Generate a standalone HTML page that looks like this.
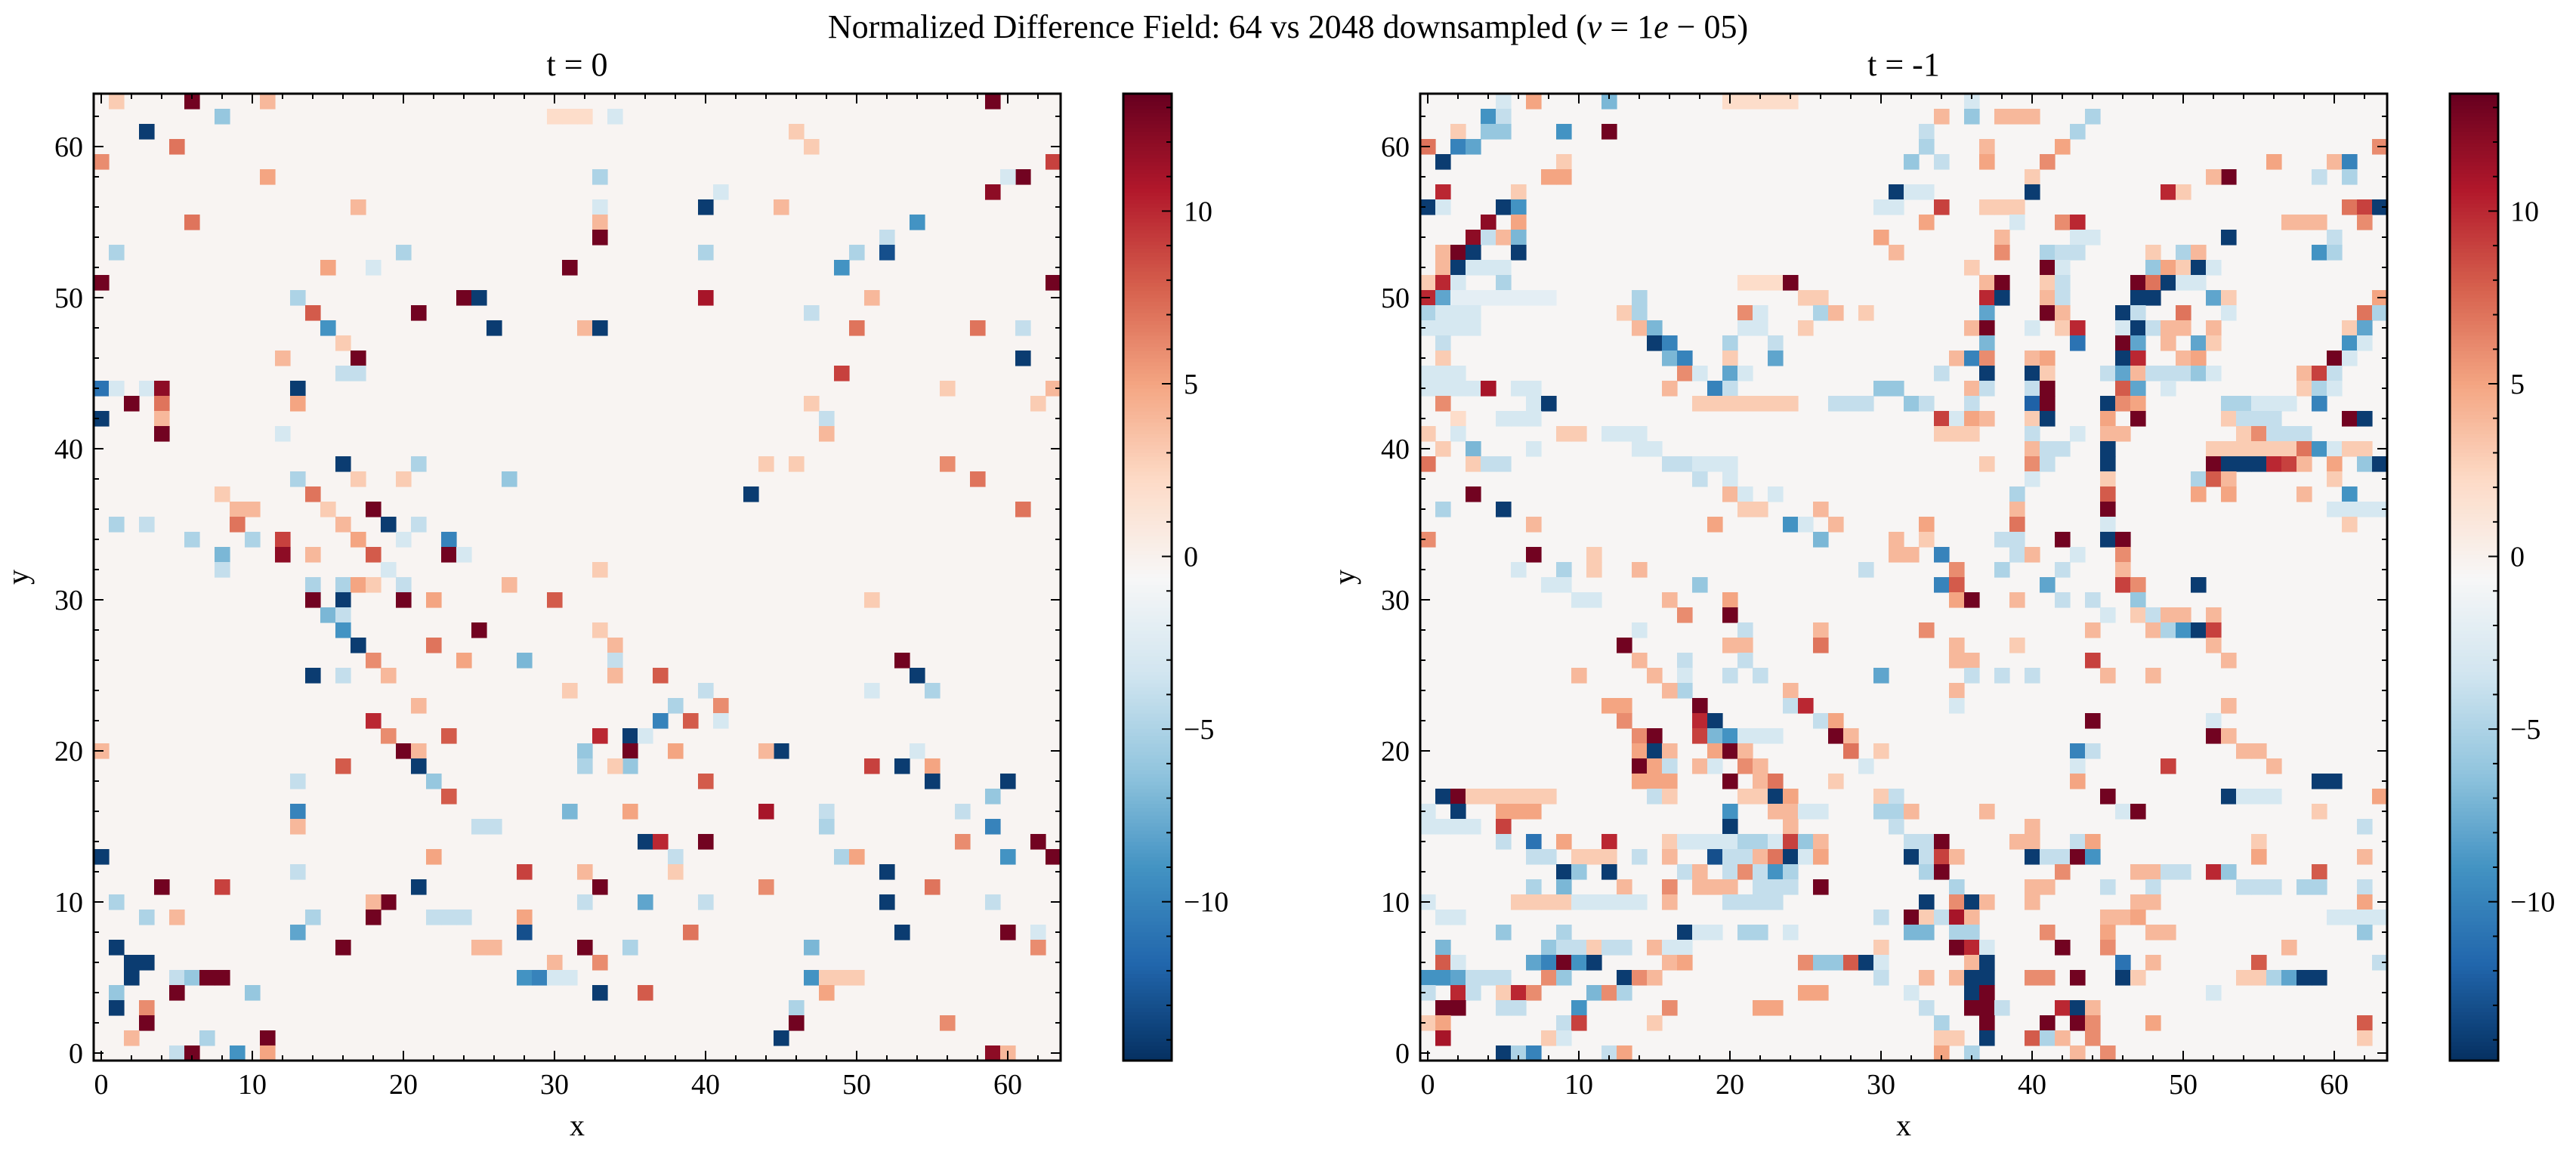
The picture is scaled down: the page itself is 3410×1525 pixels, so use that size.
<!DOCTYPE html>
<html><head><meta charset="utf-8"><style>
html,body{margin:0;padding:0;background:#fff;}
svg{display:block;font-family:"Liberation Serif","DejaVu Serif",serif;}
</style></head><body>
<svg id="fig" width="3410" height="1525" viewBox="0 0 3410 1525" xmlns="http://www.w3.org/2000/svg">
<rect width="3410" height="1525" fill="#fff"/>
<text x="1705" y="50" font-size="44" text-anchor="middle">Normalized Difference Field: 64 vs 2048 downsampled (<tspan font-style="italic">ν</tspan> = 1<tspan font-style="italic">e</tspan> − 05)</text>
<g id="p0"></g><g id="p1"></g>
</svg>
<script>
const vmin = -14.6, vmax = 13.4;
const cbTicks = [-10, -5, 0, 5, 10];
const axisTicks = [0, 10, 20, 30, 40, 50, 60];
const panelTitles = ["t = 0", "t = -1"];
const bgValues = [-0.3, -0.4];
const leftCells = [
[6,63,13],[59,63,13],[1,63,3],[11,63,4],
[8,62,-6],[30,62,2],[31,62,2],[32,62,2],[34,62,-3],
[3,61,-14],[46,61,3],
[5,60,7],[47,60,3],
[0,59,6],[63,59,9],
[11,58,5],[33,58,-5],[61,58,13],[60,58,-3],
[59,57,12],[41,57,-3],
[40,56,-14],[17,56,4],[45,56,4],[33,56,-3],
[6,55,7],[33,55,4],[54,55,-9],
[33,54,13],[52,54,-4],
[1,53,-5],[20,53,-5],[40,53,-5],[50,53,-5],[52,53,-13],
[31,52,13],[15,52,5],[18,52,-3],[49,52,-9],
[0,51,13],[63,51,13],
[24,50,13],[25,50,-14],[40,50,11],[51,50,4],[13,50,-5],
[14,49,8],[21,49,13],[47,49,-4],
[15,48,-9],[26,48,-14],[32,48,4],[33,48,-14],[50,48,7],[58,48,7],[61,48,-4],
[16,47,3],
[17,46,13],[12,46,4],[61,46,-14],
[16,45,-4],[17,45,-4],[49,45,9],
[0,44,-11],[1,44,-3],[3,44,-3],[4,44,12],[13,44,-14],[63,44,4],[56,44,3],
[2,43,13],[4,43,7],[13,43,5],[47,43,3],[62,43,3],
[0,42,-14],[4,42,4],[48,42,-4],
[4,41,13],[12,41,-3],[48,41,4],
[16,39,-14],[21,39,-5],[44,39,3],[46,39,3],[56,39,6],
[13,38,-5],[27,38,-6],[58,38,7],[17,38,3],[20,38,3],
[14,37,7],[43,37,-14],[8,37,3],
[18,36,13],[9,36,4],[10,36,4],[15,36,3],[61,36,7],
[1,35,-5],[3,35,-4],[9,35,7],[19,35,-14],[21,35,-4],[16,35,4],
[6,34,-5],[10,34,-5],[12,34,9],[17,34,5],[23,34,-10],[20,34,-3],
[8,33,-7],[12,33,12],[14,33,4],[18,33,8],[23,33,13],[24,33,-3],
[8,32,-4],[19,32,-3],[33,32,3],
[14,31,-5],[16,31,-5],[17,31,5],[18,31,3],[20,31,-4],[27,31,4],
[14,30,13],[16,30,-14],[20,30,13],[22,30,5],[30,30,8],[51,30,3],
[15,29,-7],[16,29,-4],
[16,28,-9],[25,28,13],[33,28,3],
[17,27,-14],[22,27,7],[34,27,4],
[18,26,6],[24,26,5],[28,26,-7],[53,26,13],[34,26,-4],
[14,25,-14],[16,25,-4],[19,25,4],[34,25,4],[37,25,8],[54,25,-14],
[31,24,3],[40,24,-4],[55,24,-5],[51,24,-3],
[38,23,-5],[41,23,6],[21,23,4],
[18,22,10],[37,22,-10],[39,22,8],[41,22,-3],
[19,21,6],[23,21,8],[33,21,10],[35,21,-14],[36,21,-3],
[0,20,4],[20,20,13],[21,20,4],[32,20,-6],[35,20,13],[38,20,5],[45,20,-14],[44,20,4],[54,20,-3],
[16,19,8],[21,19,-14],[32,19,-5],[35,19,-6],[51,19,9],[53,19,-14],[55,19,5],[34,19,3],
[13,18,-4],[22,18,-6],[40,18,8],[55,18,-14],[60,18,-14],
[23,17,8],[59,17,-6],
[13,16,-10],[31,16,-7],[35,16,5],[44,16,11],[48,16,-4],[57,16,-4],
[13,15,4],[25,15,-4],[26,15,-4],[48,15,-5],[59,15,-10],
[36,14,-14],[37,14,10],[40,14,13],[57,14,6],[62,14,13],
[0,13,-14],[22,13,5],[38,13,-4],[49,13,-5],[50,13,5],[60,13,-9],[63,13,13],
[28,12,9],[32,12,4],[38,12,3],[52,12,-14],[13,12,-4],
[4,11,13],[8,11,9],[21,11,-14],[33,11,13],[44,11,6],[55,11,7],
[1,10,-5],[19,10,13],[18,10,4],[36,10,-8],[32,10,-4],[40,10,-4],[52,10,-14],[59,10,-4],
[3,9,-5],[5,9,4],[18,9,13],[14,9,-5],[22,9,-4],[23,9,-4],[24,9,-4],[28,9,5],
[13,8,-8],[28,8,-13],[39,8,7],[53,8,-14],[60,8,13],[62,8,-3],
[1,7,-14],[16,7,13],[32,7,13],[35,7,-5],[47,7,-7],[62,7,6],[25,7,4],[26,7,4],
[2,6,-14],[3,6,-14],[30,6,4],[33,6,6],
[2,5,-14],[5,5,-4],[6,5,-6],[7,5,13],[8,5,13],[28,5,-9],[29,5,-10],[30,5,-3],[31,5,-3],[47,5,-9],[48,5,3],[49,5,3],[50,5,3],
[1,4,-6],[5,4,13],[10,4,-6],[33,4,-14],[36,4,8],[48,4,5],
[1,3,-14],[3,3,6],[46,3,-5],
[3,2,13],[46,2,13],[56,2,6],
[2,1,4],[7,1,-5],[11,1,13],[45,1,-14],
[5,0,-4],[6,0,13],[9,0,-9],[11,0,5],[59,0,12],[60,0,4]
];
const rightCells = [
[7,63,5],[12,63,-7],[5,63,-3],[36,63,-3],[20,63,2],[21,63,2],[22,63,2],[23,63,2],[24,63,2],
[4,62,-9],[5,62,-4],[34,62,4],[36,62,-6],[39,62,4],[40,62,4],[44,62,-5],[38,62,4],
[4,61,-6],[5,61,-6],[9,61,-9],[12,61,13],[43,61,-5],[33,61,-4],[2,61,3],
[0,60,7],[2,60,-10],[3,60,-8],[33,60,-5],[42,60,5],[37,60,4],[63,60,6],
[1,59,-14],[9,59,3],[32,59,-6],[34,59,-4],[37,59,5],[41,59,6],[56,59,5],[60,59,4],[61,59,-10],
[8,58,5],[9,58,5],[53,58,13],[52,58,4],[59,58,-4],[61,58,-5],[40,58,3],
[1,57,10],[6,57,3],[31,57,-14],[32,57,-3],[33,57,-3],[40,57,-14],[49,57,10],[50,57,3],
[0,56,-14],[1,56,-3],[5,56,-14],[6,56,-9],[30,56,-3],[31,56,-3],[34,56,9],[37,56,3],[38,56,3],[39,56,3],[61,56,7],[62,56,9],[63,56,-14],
[4,55,12],[6,55,5],[33,55,5],[42,55,6],[43,55,10],[39,55,-3],[57,55,4],[58,55,4],[59,55,4],[62,55,6],
[3,54,12],[4,54,-4],[5,54,4],[6,54,-7],[30,54,5],[38,54,4],[43,54,-3],[44,54,-3],[53,54,-14],[60,54,-4],
[1,53,4],[2,53,13],[3,53,-14],[6,53,-14],[31,53,4],[38,53,6],[41,53,-5],[42,53,-4],[43,53,-4],[50,53,-5],[51,53,4],[59,53,-9],[60,53,-5],[48,53,3],
[1,52,4],[2,52,-14],[3,52,-3],[4,52,-3],[5,52,-3],[41,52,13],[42,52,-3],[36,52,3],[48,52,-6],[49,52,5],[50,52,3],[51,52,-14],[52,52,-3],
[0,51,3],[1,51,10],[2,51,-3],[5,51,-5],[21,51,2],[22,51,2],[23,51,2],[24,51,13],[37,51,4],[38,51,13],[41,51,3],[42,51,-4],[47,51,13],[48,51,7],[49,51,-14],[50,51,-3],[51,51,-3],
[0,50,10],[1,50,-8],[2,50,-2],[3,50,-2],[4,50,-2],[5,50,-2],[6,50,-2],[7,50,-2],[8,50,-2],[14,50,-5],[25,50,3],[26,50,3],[37,50,10],[38,50,-14],[41,50,4],[42,50,-4],[47,50,-14],[48,50,-14],[52,50,-8],[53,50,3],[63,50,5],
[0,49,-5],[1,49,-3],[2,49,-3],[3,49,-3],[13,49,3],[14,49,-5],[21,49,6],[22,49,-3],[26,49,-5],[27,49,4],[29,49,3],[37,49,-8],[41,49,13],[42,49,4],[46,49,-14],[47,49,-4],[50,49,7],[53,49,-3],[62,49,7],[63,49,-5],
[0,48,-3],[1,48,-3],[2,48,-3],[3,48,-3],[14,48,4],[15,48,-7],[21,48,-3],[22,48,-3],[25,48,3],[36,48,4],[37,48,13],[40,48,-3],[42,48,3],[43,48,10],[46,48,-3],[47,48,-14],[48,48,-4],[49,48,4],[50,48,4],[52,48,4],[61,48,3],[62,48,-8],
[1,47,-4],[15,47,-14],[16,47,-10],[20,47,-5],[23,47,-4],[37,47,-7],[43,47,-11],[46,47,13],[47,47,-8],[49,47,4],[51,47,-8],[52,47,3],[61,47,-9],[62,47,-3],
[1,46,3],[16,46,-7],[17,46,-10],[20,46,3],[23,46,-8],[35,46,4],[36,46,-10],[37,46,6],[40,46,4],[41,46,5],[46,46,-14],[47,46,10],[50,46,4],[51,46,5],[60,46,13],[61,46,-3],
[0,45,-3],[1,45,-3],[2,45,-3],[17,45,6],[18,45,-3],[20,45,-8],[21,45,-3],[34,45,-4],[37,45,-14],[40,45,-14],[41,45,3],[45,45,-4],[46,45,-8],[47,45,4],[48,45,-4],[49,45,-4],[50,45,-4],[51,45,-6],[52,45,-3],[58,45,4],[59,45,9],[60,45,-4],
[0,44,-3],[1,44,-3],[2,44,-3],[3,44,-3],[4,44,11],[6,44,-3],[7,44,-3],[16,44,4],[19,44,-10],[20,44,-4],[30,44,-6],[31,44,-6],[36,44,4],[37,44,-4],[40,44,-4],[41,44,13],[46,44,8],[47,44,-8],[49,44,-3],[58,44,3],[59,44,-5],[60,44,-3],
[1,43,6],[7,43,-3],[8,43,-14],[18,43,3],[19,43,3],[20,43,3],[21,43,3],[22,43,3],[23,43,3],[24,43,3],[27,43,-4],[28,43,-4],[29,43,-4],[32,43,-6],[33,43,-4],[36,43,-4],[40,43,-12],[41,43,13],[45,43,-14],[46,43,6],[47,43,5],[53,43,-5],[54,43,-5],[55,43,-3],[56,43,-3],[57,43,-3],[59,43,-10],
[2,42,2],[5,42,-3],[6,42,-3],[7,42,-3],[34,42,9],[35,42,-3],[36,42,5],[37,42,4],[40,42,3],[41,42,-14],[45,42,5],[47,42,13],[53,42,3],[54,42,-4],[55,42,-4],[56,42,-4],[61,42,13],[62,42,-14],
[0,41,3],[2,41,-3],[9,41,3],[10,41,3],[12,41,-3],[13,41,-3],[14,41,-3],[34,41,3],[35,41,3],[36,41,3],[40,41,-4],[43,41,-3],[45,41,4],[46,41,4],[54,41,3],[55,41,6],[56,41,-4],[57,41,-4],[58,41,-4],
[1,40,3],[3,40,-7],[7,40,-3],[14,40,-3],[15,40,-3],[40,40,4],[41,40,-4],[42,40,-4],[45,40,-14],[52,40,3],[53,40,3],[54,40,3],[55,40,3],[56,40,3],[57,40,3],[58,40,7],[59,40,-9],[60,40,-3],[61,40,3],[62,40,3],
[0,39,7],[3,39,3],[4,39,-4],[5,39,-4],[16,39,-4],[17,39,-4],[18,39,-3],[19,39,-3],[20,39,-3],[37,39,3],[40,39,6],[41,39,-4],[45,39,-14],[52,39,13],[53,39,-14],[54,39,-14],[55,39,-14],[56,39,10],[57,39,9],[58,39,4],[60,39,5],[62,39,-6],[63,39,-14],
[18,38,-4],[20,38,-3],[40,38,-3],[45,38,3],[51,38,-5],[52,38,8],[53,38,4],[60,38,3],
[3,37,13],[20,37,4],[21,37,-3],[23,37,-3],[39,37,-5],[45,37,8],[51,37,5],[53,37,5],[58,37,4],[61,37,-9],
[1,36,-5],[5,36,-14],[21,36,3],[22,36,3],[26,36,4],[39,36,4],[45,36,13],[60,36,-3],[61,36,-3],[62,36,-3],[63,36,-3],
[7,35,4],[19,35,5],[24,35,-9],[25,35,-3],[27,35,4],[33,35,5],[39,35,7],[45,35,-3],[61,35,3],
[0,34,6],[26,34,-7],[31,34,4],[33,34,3],[38,34,-4],[39,34,-4],[42,34,13],[45,34,-14],[46,34,13],
[7,33,13],[11,33,3],[31,33,4],[32,33,4],[34,33,-10],[39,33,-4],[40,33,4],[43,33,-3],[46,33,6],
[9,32,-5],[14,32,4],[35,32,6],[38,32,-5],[42,32,-4],[46,32,4],[29,32,-4],[11,32,3],[6,32,-3],
[8,31,-3],[9,31,-3],[18,31,-6],[34,31,-10],[35,31,8],[41,31,-8],[46,31,9],[47,31,6],[51,31,-14],
[10,30,-3],[11,30,-3],[16,30,4],[20,30,5],[35,30,5],[36,30,13],[39,30,4],[42,30,-4],[44,30,-4],[47,30,-6],
[17,29,6],[20,29,13],[45,29,-3],[47,29,3],[48,29,-4],[49,29,4],[50,29,4],[52,29,4],
[14,28,-3],[21,28,-4],[26,28,4],[33,28,6],[44,28,4],[48,28,4],[49,28,-5],[50,28,-9],[51,28,-14],[52,28,9],
[13,27,13],[20,27,4],[21,27,4],[26,27,7],[35,27,4],[39,27,3],[52,27,4],
[14,26,4],[17,26,-4],[21,26,-4],[35,26,4],[36,26,4],[44,26,9],[53,26,4],
[10,25,4],[15,25,4],[17,25,-3],[20,25,-4],[22,25,-4],[30,25,-8],[36,25,-4],[38,25,-4],[40,25,-4],[45,25,4],[48,25,4],
[17,24,-5],[16,24,4],[24,24,4],[35,24,4],
[12,23,5],[13,23,5],[18,23,13],[24,23,-4],[25,23,10],[35,23,-3],[53,23,4],
[13,22,6],[18,22,10],[19,22,-14],[26,22,-4],[27,22,5],[44,22,13],[52,22,-3],
[14,21,6],[15,21,13],[18,21,9],[19,21,-7],[20,21,-9],[21,21,-3],[22,21,-3],[23,21,-3],[27,21,13],[28,21,4],[52,21,13],[53,21,4],
[14,20,5],[15,20,-14],[16,20,4],[19,20,5],[20,20,13],[21,20,4],[28,20,7],[30,20,3],[43,20,-10],[44,20,-4],[54,20,4],[55,20,4],
[14,19,13],[15,19,5],[16,19,-4],[18,19,4],[19,19,-3],[21,19,6],[22,19,4],[29,19,-3],[43,19,-3],[49,19,9],[56,19,4],
[14,18,5],[15,18,5],[16,18,5],[20,18,13],[22,18,4],[23,18,7],[27,18,3],[43,18,5],[59,18,-14],[60,18,-14],
[1,17,-14],[2,17,13],[3,17,3],[4,17,3],[5,17,3],[6,17,3],[7,17,3],[8,17,3],[15,17,-4],[16,17,3],[21,17,3],[22,17,3],[23,17,-14],[24,17,5],[30,17,3],[31,17,-4],[45,17,13],[53,17,-14],[54,17,-3],[55,17,-3],[56,17,-3],[63,17,5],
[0,16,-3],[2,16,-14],[5,16,5],[6,16,5],[7,16,5],[20,16,-9],[23,16,4],[24,16,4],[25,16,-3],[26,16,-3],[30,16,-5],[31,16,-5],[32,16,4],[37,16,4],[46,16,-3],[47,16,13],[59,16,3],
[0,15,-3],[1,15,-3],[2,15,-3],[3,15,-3],[5,15,9],[20,15,-14],[24,15,4],[31,15,-4],[40,15,4],[62,15,-4],
[5,14,-4],[7,14,-11],[9,14,5],[12,14,10],[16,14,3],[17,14,-3],[18,14,-3],[19,14,-3],[20,14,-3],[21,14,-5],[22,14,-5],[23,14,-3],[24,14,9],[25,14,-6],[26,14,4],[32,14,-4],[33,14,-4],[34,14,13],[39,14,4],[40,14,4],[43,14,-4],[44,14,5],[55,14,3],
[7,13,-4],[8,13,-4],[10,13,3],[11,13,3],[12,13,3],[14,13,-4],[16,13,4],[19,13,-13],[20,13,-4],[21,13,-4],[22,13,4],[23,13,7],[24,13,-14],[25,13,-3],[26,13,5],[32,13,-14],[33,13,-4],[34,13,9],[35,13,4],[40,13,-14],[41,13,-4],[42,13,-4],[43,13,13],[44,13,-9],[55,13,5],[62,13,4],
[9,12,-14],[10,12,-6],[12,12,-14],[17,12,-4],[18,12,4],[20,12,-4],[21,12,6],[22,12,-4],[23,12,-9],[24,12,-5],[33,12,-5],[34,12,13],[42,12,6],[47,12,4],[48,12,4],[49,12,-4],[50,12,-4],[52,12,10],[53,12,-6],[59,12,8],
[7,11,-5],[9,11,-7],[13,11,4],[16,11,6],[18,11,4],[19,11,4],[20,11,4],[22,11,-4],[23,11,-4],[24,11,-4],[26,11,13],[35,11,-5],[40,11,4],[41,11,4],[45,11,-4],[48,11,-4],[54,11,-4],[55,11,-4],[56,11,-4],[58,11,-5],[59,11,-5],[62,11,-4],
[0,10,-3],[6,10,3],[7,10,3],[8,10,3],[9,10,3],[10,10,-3],[11,10,-3],[12,10,-3],[13,10,-3],[14,10,-3],[16,10,4],[20,10,-4],[21,10,-4],[22,10,-4],[23,10,-4],[33,10,-14],[35,10,6],[36,10,-14],[37,10,4],[40,10,4],[47,10,4],[48,10,4],[62,10,5],
[1,9,-3],[2,9,-3],[30,9,-4],[32,9,13],[33,9,3],[34,9,-4],[35,9,11],[36,9,4],[45,9,4],[46,9,4],[47,9,5],[60,9,-3],[61,9,-3],[62,9,-3],[63,9,-3],
[5,8,-6],[9,8,-5],[17,8,-14],[18,8,-3],[19,8,-3],[21,8,-5],[22,8,-5],[24,8,-3],[32,8,-7],[33,8,-7],[35,8,-5],[36,8,-5],[41,8,6],[45,8,5],[48,8,4],[49,8,4],[62,8,-6],
[1,7,-7],[8,7,-6],[9,7,-4],[10,7,-4],[11,7,3],[12,7,-4],[13,7,-4],[15,7,4],[16,7,-3],[17,7,-3],[30,7,3],[35,7,13],[36,7,10],[37,7,-3],[42,7,13],[45,7,6],[57,7,4],
[1,6,8],[2,6,-3],[7,6,-8],[8,6,-10],[9,6,13],[10,6,-9],[11,6,-14],[16,6,4],[17,6,5],[25,6,6],[26,6,-6],[27,6,-6],[28,6,8],[29,6,-14],[30,6,-3],[36,6,4],[37,6,-14],[46,6,-11],[48,6,4],[55,6,8],[63,6,-4],
[0,5,-9],[1,5,-9],[2,5,-8],[3,5,-4],[4,5,-4],[5,5,-4],[8,5,6],[9,5,-6],[13,5,-14],[14,5,6],[15,5,4],[30,5,-4],[33,5,4],[35,5,4],[36,5,-14],[37,5,-14],[40,5,6],[41,5,6],[43,5,13],[46,5,-14],[47,5,3],[54,5,3],[55,5,3],[56,5,-5],[57,5,-8],[58,5,-14],[59,5,-14],
[0,4,-4],[2,4,10],[3,4,-4],[5,4,3],[6,4,10],[7,4,6],[11,4,-7],[12,4,6],[13,4,-5],[25,4,5],[26,4,5],[32,4,-3],[36,4,-14],[37,4,13],[52,4,-3],
[1,3,13],[2,3,13],[5,3,-4],[6,3,-4],[10,3,-9],[16,3,6],[22,3,5],[23,3,5],[33,3,-4],[36,3,13],[37,3,13],[38,3,-4],[42,3,10],[43,3,-14],[44,3,4],
[0,2,3],[1,2,5],[9,2,-4],[10,2,9],[15,2,3],[34,2,-5],[37,2,13],[41,2,13],[43,2,13],[44,2,6],[48,2,5],[62,2,8],
[1,1,11],[8,1,3],[9,1,-3],[34,1,3],[35,1,3],[37,1,-14],[40,1,8],[41,1,-5],[42,1,4],[44,1,6],[62,1,3],
[5,0,-14],[6,0,-5],[7,0,-10],[12,0,-4],[13,0,5],[34,0,5],[36,0,-5],[43,0,4],[45,0,6]
];

const NS = "http://www.w3.org/2000/svg";
const stops = ["#053061","#2166ac","#4393c3","#92c5de","#d1e5f0","#f7f7f7","#fddbc7","#f4a582","#d6604d","#b2182b","#67001f"].map(h=>[parseInt(h.slice(1,3),16),parseInt(h.slice(3,5),16),parseInt(h.slice(5,7),16)]);
function cmap(t){t=Math.max(0,Math.min(1,t));const p=t*10,i=Math.min(9,Math.floor(p)),f=p-i;const a=stops[i],b=stops[i+1];return "rgb("+a.map((v,k)=>Math.round(v+(b[k]-v)*f)).join(",")+")";}
function color(v){return cmap((v-vmin)/(vmax-vmin));}
function mk(tag,attrs,parent){const e=document.createElementNS(NS,tag);for(const k in attrs)e.setAttribute(k,attrs[k]);parent.appendChild(e);return e;}

const panels=[{x0:124,cb:1487,cells:leftCells},{x0:1880,cb:3243,cells:rightCells}];
const y0=124, size=1280, n=64, cw=size/n;
function sx(p,v){return panels[p].x0+(v+0.5)*cw;}
function sy(v){return y0+size-(v+0.5)*cw;}
function cbY(v){return y0+size-(v-vmin)/(vmax-vmin)*size;}

panels.forEach((P,pi)=>{
  const g=document.getElementById("p"+pi);
  const hm=mk("g",{},g);
  
  
  const bg=mk("rect",{x:P.x0,y:y0,width:size,height:size,fill:color(bgValues[pi])},hm);
  
  
  P.cells.forEach(c=>{
    const r=mk("rect",{x:(sx(pi,c[0])-cw/2).toFixed(2),y:(sy(c[1])-cw/2).toFixed(2),width:cw+0.6,height:cw+0.6,fill:color(c[2])},hm);
    
    
  });
  const tk=mk("g",{stroke:"#000","stroke-width":2},g);
  for(let v=0;v<=63;v+=2){
    const major=v%10===0, L=major?13:7;
    const x=sx(pi,v), y=sy(v);
    mk("line",{x1:x,y1:y0+size,x2:x,y2:y0+size-L},tk);
    mk("line",{x1:x,y1:y0,x2:x,y2:y0+L},tk);
    mk("line",{x1:P.x0,y1:y,x2:P.x0+L,y2:y},tk);
    mk("line",{x1:P.x0+size,y1:y,x2:P.x0+size-L,y2:y},tk);
  }
  axisTicks.forEach(v=>{
    const tx=mk("text",{x:sx(pi,v),y:1448,"font-size":38,"text-anchor":"middle"},g);
    tx.textContent=v;
    
    
    const ty=mk("text",{x:P.x0-14,y:sy(v)+13,"font-size":38,"text-anchor":"end"},g);
    ty.textContent=v;
    
    
  });
  const fr=mk("rect",{x:P.x0,y:y0,width:size,height:size,fill:"none",stroke:"#000","stroke-width":3},g);
  
  
  const xl=mk("text",{x:P.x0+size/2,y:1503,"font-size":40,"text-anchor":"middle"},g);
  xl.textContent="x";
  
  
  const yx=P.x0-87;
  const yl=mk("text",{x:yx,y:764,"font-size":40,"text-anchor":"middle",transform:"rotate(-90 "+yx+" 764)"},g);
  yl.textContent="y";
  
  
  const tt=mk("text",{x:P.x0+size/2,y:100,"font-size":44,"text-anchor":"middle"},g);
  tt.textContent=panelTitles[pi];
  
  
  const cbg=mk("g",{},g);
  
  
  const steps=256;
  for(let i=0;i<steps;i++){
    const v0=vmin+(vmax-vmin)*i/steps, v1=vmin+(vmax-vmin)*(i+1)/steps;
    mk("rect",{x:P.cb,y:cbY(v1),width:64,height:(cbY(v0)-cbY(v1))+0.6,fill:color((v0+v1)/2)},cbg);
  }
  mk("rect",{x:P.cb,y:y0,width:64,height:size,fill:"none",stroke:"#000","stroke-width":3},cbg);
  for(let v=Math.ceil(vmin);v<=vmax;v++){
    const major=v%5===0, L=major?13:7, y=cbY(v);
    mk("line",{x1:P.cb+64,y1:y,x2:P.cb+64-L,y2:y,stroke:"#000","stroke-width":2},cbg);
  }
  cbTicks.forEach(v=>{
    const t=mk("text",{x:P.cb+80,y:cbY(v)+13,"font-size":38},cbg);
    t.textContent=(v<0?"−":"")+Math.abs(v);
    
    
  });
});
</script>
</body></html>
